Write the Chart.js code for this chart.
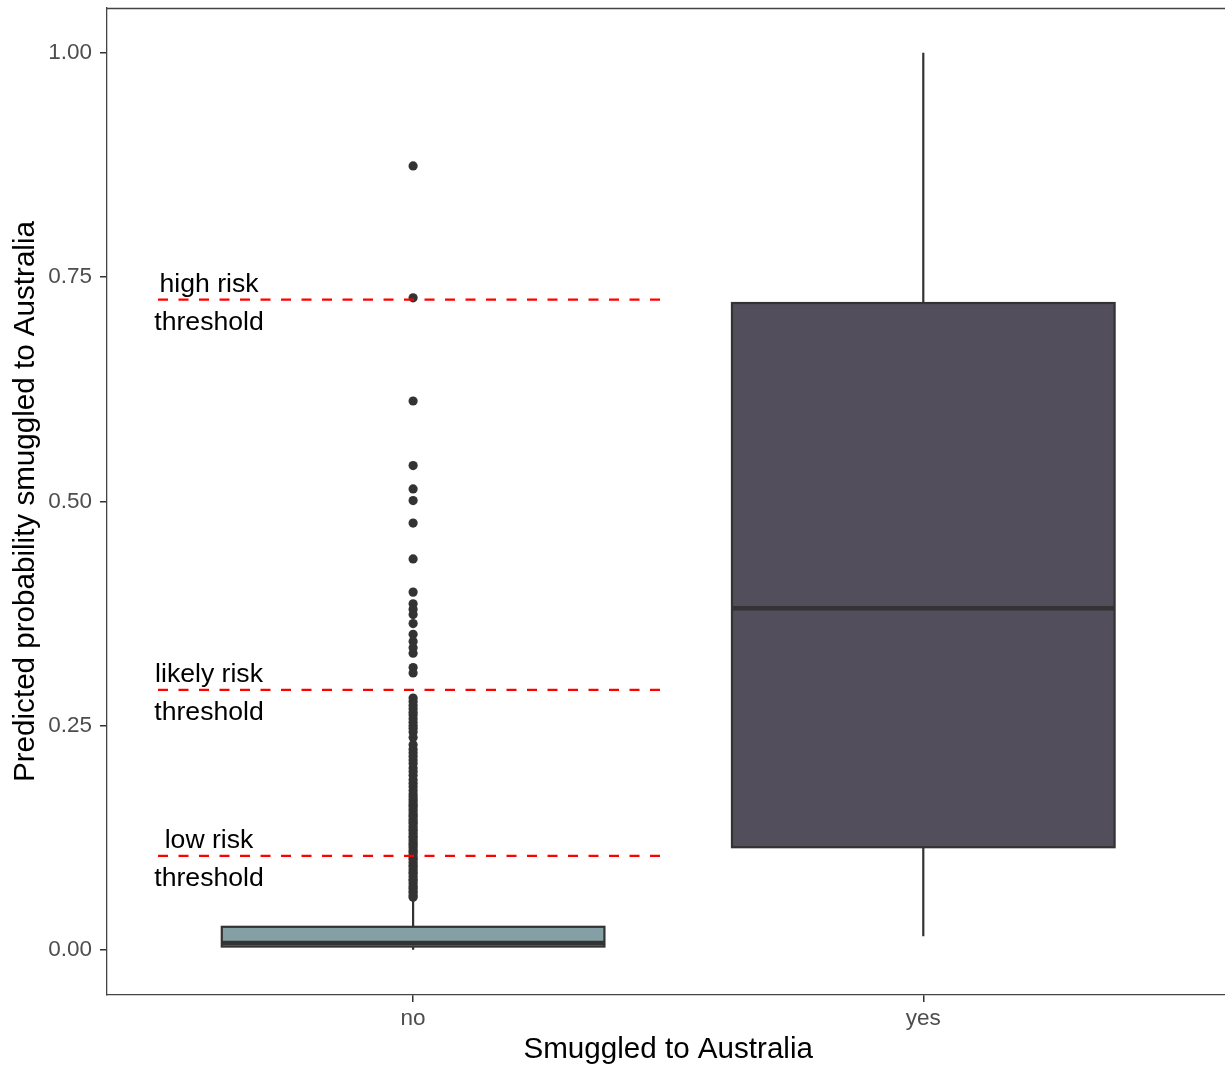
<!DOCTYPE html>
<html>
<head>
<meta charset="utf-8">
<script src="https://cdn.jsdelivr.net/npm/chart.js@4/dist/chart.umd.min.js"></script>
<style>
  html, body { margin: 0; padding: 0; background: #ffffff; overflow: hidden; }
  #wrap { width: 1225px; height: 1070px; overflow: hidden; position: relative; }
  #c { display: block; }
</style>
</head>
<body>
<div id="wrap"><canvas id="c" width="1234" height="1070"></canvas></div>
<script>
// Box summaries per group
const categories   = ['no', 'yes'];
const lowerWhisker = [0.0005, 0.0156];
const q1           = [0.004, 0.1147];
const median       = [0.008, 0.381];
const q3           = [0.026, 0.7212];
const upperWhisker = [0.056, 1.0];
const boxFills     = ['#84A0A4', '#524E5B'];

// Outlying predictions in the "no" group
const outliersNo = [
  0.874, 0.727, 0.612, 0.540, 0.514, 0.501, 0.476, 0.436, 0.399, 0.386,
  0.380, 0.374, 0.364, 0.352, 0.344, 0.337, 0.331, 0.315, 0.309,
  0.281, 0.277, 0.273, 0.269, 0.265, 0.262, 0.258, 0.254, 0.250, 0.247,
  0.243, 0.237, 0.229, 0.224, 0.220, 0.216, 0.212, 0.208, 0.203, 0.199,
  0.195, 0.190, 0.186, 0.182, 0.178, 0.174, 0.171, 0.168, 0.165, 0.162,
  0.160, 0.157, 0.154, 0.151, 0.149, 0.146, 0.143, 0.141, 0.138, 0.135,
  0.133, 0.130, 0.127, 0.125, 0.122, 0.119, 0.117, 0.114, 0.111, 0.109,
  0.106, 0.103, 0.101, 0.098, 0.095, 0.093, 0.090, 0.087, 0.085, 0.082,
  0.079, 0.077, 0.074, 0.071, 0.069, 0.066, 0.064, 0.061, 0.059
];

// Risk thresholds
const thresholdNames  = ['high risk', 'likely risk', 'low risk'];
const thresholdValues = [0.725, 0.290, 0.105];
const thresholdStart  = 0.5;
const thresholdEnd    = 1.5;
const labelX          = 0.6;

const yTicks = [0, 0.25, 0.5, 0.75, 1];
const xTicks = [1, 2];

const BOX_HALF = 0.375;
const FONT = '"Liberation Sans", Arial, Helvetica, sans-serif';

// Boxes, whiskers and medians drawn behind the point/line datasets
const boxPlugin = {
  id: 'boxes',
  beforeDatasetsDraw(chart) {
    const { ctx, scales: { x, y } } = chart;
    ctx.save();
    categories.forEach((c, i) => {
      const pos = i + 1;
      const xc = x.getPixelForValue(pos);
      const xl = x.getPixelForValue(pos - BOX_HALF);
      const xr = x.getPixelForValue(pos + BOX_HALF);
      const yLo = y.getPixelForValue(lowerWhisker[i]);
      const yQ1 = y.getPixelForValue(q1[i]);
      const yMd = y.getPixelForValue(median[i]);
      const yQ3 = y.getPixelForValue(q3[i]);
      const yHi = y.getPixelForValue(upperWhisker[i]);

      ctx.strokeStyle = '#333333';
      ctx.lineWidth = 2.2;
      ctx.beginPath();
      ctx.moveTo(xc, yHi); ctx.lineTo(xc, yQ3);
      ctx.moveTo(xc, yQ1); ctx.lineTo(xc, yLo);
      ctx.stroke();

      ctx.fillStyle = boxFills[i];
      ctx.fillRect(xl, yQ3, xr - xl, yQ1 - yQ3);
      ctx.strokeRect(xl, yQ3, xr - xl, yQ1 - yQ3);

      ctx.lineWidth = 4.5;
      ctx.beginPath();
      ctx.moveTo(xl, yMd); ctx.lineTo(xr, yMd);
      ctx.stroke();
    });
    ctx.restore();
  },
  afterDatasetsDraw(chart) {
    const { ctx, scales: { x, y } } = chart;
    ctx.save();
    ctx.fillStyle = '#000000';
    ctx.font = '26.6px ' + FONT;
    ctx.textAlign = 'center';
    ctx.textBaseline = 'alphabetic';
    thresholdValues.forEach((v, i) => {
      const px = x.getPixelForValue(labelX);
      const py = y.getPixelForValue(v);
      ctx.fillText(thresholdNames[i], px, py - 8);
      ctx.fillText('threshold', px, py + 30);
    });
    ctx.restore();
  },
  afterDraw(chart) {
    // panel top edge
    const { ctx, chartArea: a } = chart;
    ctx.save();
    ctx.strokeStyle = '#444444';
    ctx.lineWidth = 1.3;
    ctx.beginPath();
    ctx.moveTo(a.left, a.top + 0.5);
    ctx.lineTo(chart.width, a.top + 0.5);
    ctx.stroke();
    ctx.restore();
  }
};

const datasets = [];
thresholdValues.forEach((v, i) => {
  datasets.push({
    type: 'line',
    label: thresholdNames[i],
    data: [{ x: thresholdStart, y: v }, { x: thresholdEnd, y: v }],
    borderColor: '#FF0000',
    borderWidth: 2.3,
    borderDash: [10, 10.5],
    pointRadius: 0,
    fill: false,
    order: 0
  });
});
datasets.push({
  type: 'scatter',
  label: 'outliers',
  data: outliersNo.map(v => ({ x: 1, y: v })),
  pointRadius: 4.6,
  pointBackgroundColor: '#333333',
  pointBorderWidth: 0,
  order: 1
});

// Fixed axis sizes with no extra label overhang padding
const fixX = s => { s.height = 75; s.paddingLeft = 0; s.paddingRight = 0; s.paddingTop = 0; s.paddingBottom = 0; };
const fixY = s => { s.width = 107; s.paddingLeft = 0; s.paddingRight = 0; s.paddingTop = 0; s.paddingBottom = 0; };

new Chart(document.getElementById('c'), {
  type: 'scatter',
  data: { datasets },
  plugins: [boxPlugin],
  options: {
    responsive: false,
    animation: false,
    events: [],
    layout: { padding: { top: 8, right: 0, left: 0, bottom: 0 } },
    plugins: { legend: { display: false }, tooltip: { enabled: false } },
    scales: {
      x: {
        type: 'linear',
        min: 0.4,
        max: 2.6,
        afterBuildTicks: s => { s.ticks = xTicks.map(v => ({ value: v })); },
        afterFit: fixX,
        grid: { drawOnChartArea: false, drawTicks: true, tickLength: 7, color: '#333333', lineWidth: 1.5 },
        border: { display: true, color: '#444444', width: 1.3 },
        ticks: {
          padding: 3,
          color: '#4D4D4D',
          font: { family: FONT, size: 22.5 },
          maxRotation: 0,
          callback: v => categories[Math.round(v) - 1]
        },
        title: {
          display: true,
          text: 'Smuggled to Australia',
          color: '#000000',
          font: { family: FONT, size: 29.6 },
          padding: { top: 0, bottom: 2 }
        }
      },
      y: {
        type: 'linear',
        min: -0.05,
        max: 1.05,
        afterBuildTicks: s => { s.ticks = yTicks.map(v => ({ value: v })); },
        afterFit: fixY,
        grid: { drawOnChartArea: false, drawTicks: true, tickLength: 7, color: '#333333', lineWidth: 1.5 },
        border: { display: true, color: '#444444', width: 1.3 },
        ticks: {
          padding: 8,
          color: '#4D4D4D',
          font: { family: FONT, size: 22.5 },
          callback: v => v.toFixed(2)
        },
        title: {
          display: true,
          text: 'Predicted probability smuggled to Australia',
          color: '#000000',
          font: { family: FONT, size: 29.6 },
          padding: { top: 8, bottom: 0 }
        }
      }
    }
  }
});
</script>
</body>
</html>
